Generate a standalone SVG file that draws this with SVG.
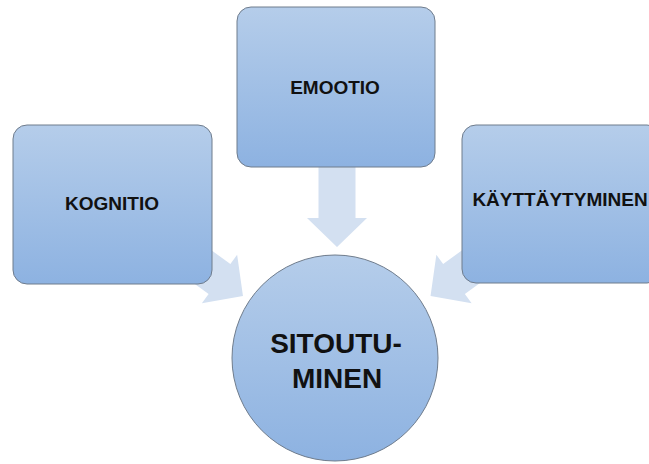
<svg xmlns="http://www.w3.org/2000/svg" width="649" height="464" viewBox="0 0 649 464">
<defs>
<linearGradient id="g" x1="0" y1="0" x2="0" y2="1">
<stop offset="0" stop-color="#b5cdea"/>
<stop offset="1" stop-color="#8db2e1"/>
</linearGradient>
<path id="arr" d="M-18.5,-100 H18.5 V0 H30 L0,29 L-30,0 H-18.5 Z"/>
</defs>
<style>
.box{fill:url(#g);stroke:#6f7c8c;stroke-width:1}
.arrow{fill:#d3e0f1}
.t{font-family:"Liberation Sans",Arial,sans-serif;font-weight:bold;fill:#111;text-anchor:middle}
.s{font-size:19px}
.b{font-size:28px}
</style>
<rect width="649" height="464" fill="#ffffff"/>
<g id="connectors">
<path class="arrow" d="M-18.5,-55 H18.5 V0 H30 L0,29 L-30,0 H-18.5 Z" transform="translate(337,218)"/>
<use href="#arr" class="arrow" transform="translate(219.5,279) rotate(-54)"/>
<use href="#arr" class="arrow" transform="translate(454,279) rotate(54)"/>
</g>
<g id="kognitio">
<rect class="box" x="13" y="125" width="199" height="159" rx="14"/>
<text class="t s" x="112" y="210">KOGNITIO</text>
</g>
<g id="emootio">
<rect class="box" x="237" y="7" width="198" height="160" rx="14"/>
<text class="t s" x="335" y="94">EMOOTIO</text>
</g>
<g id="kayttaytyminen">
<rect class="box" x="462" y="125" width="199" height="158" rx="14"/>
<text class="t s" x="560" y="206">KÄYTTÄYTYMINEN</text>
</g>
<g id="sitoutuminen">
<circle class="box" cx="335" cy="358" r="103"/>
<text class="t b" x="336" y="353">SITOUTU-</text>
<text class="t b" x="337" y="388">MINEN</text>
</g>
</svg>
